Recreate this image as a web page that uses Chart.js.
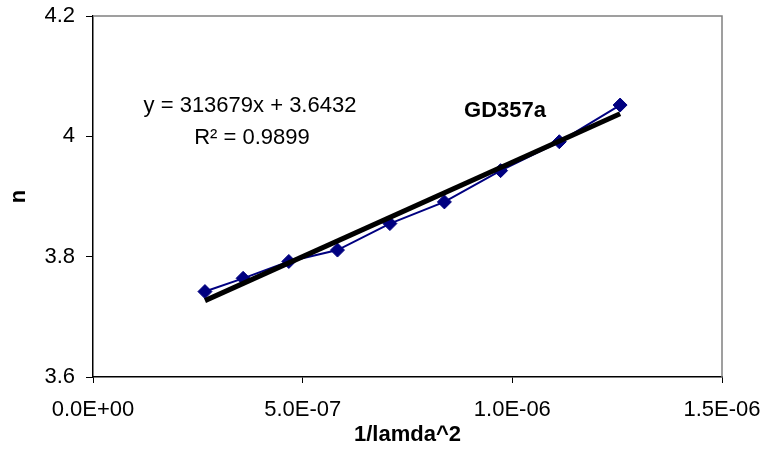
<!DOCTYPE html>
<html><head><meta charset="utf-8">
<script src="https://cdn.jsdelivr.net/npm/chart.js@4/dist/chart.umd.min.js"></script>
<style>html,body{margin:0;padding:0;background:#fff;overflow:hidden}#wrap{width:766px;height:449px;position:relative}</style>
</head><body><div id="wrap"><canvas id="c"></canvas></div>
<script>
const xValues = [2.67e-7, 3.58e-7, 4.67e-7, 5.83e-7, 7.08e-7, 8.38e-7, 9.72e-7, 1.112e-6, 1.257e-6];
const nValues = [3.742, 3.764, 3.792, 3.811, 3.855, 3.891, 3.943, 3.991, 4.052];
const trendSlope = 313679;
const trendIntercept = 3.6432;
const rSquared = 0.9899;
const seriesName = 'GD357a';
const xTickValues = [0, 5e-7, 1e-6, 1.5e-6];
const xTickLabels = ['0.0E+00', '5.0E-07', '1.0E-06', '1.5E-06'];
const yTickValues = [3.6, 3.8, 4.0, 4.2];
const yTickLabels = ['3.6', '3.8', '4', '4.2'];
const xTitle = '1/lamda^2';
const yTitle = 'n';

const FONT = '"Liberation Sans", Arial, sans-serif';
Chart.defaults.font.family = FONT;
Chart.defaults.font.size = 22;
Chart.defaults.color = '#000';

const seriesPts = xValues.map((x, i) => ({x: x, y: nValues[i]}));
const xFirst = Math.min(...xValues), xLast = Math.max(...xValues);
const trendPts = [xFirst, xLast].map(x => ({x: x, y: trendSlope * x + trendIntercept}));

const annot = {
  id: 'annot',
  beforeDatasetsDraw(chart) {
    const {ctx, chartArea: a} = chart;
    ctx.save();
    ctx.strokeStyle = '#808080';
    ctx.lineWidth = 1.5;
    ctx.beginPath();
    ctx.moveTo(a.left, a.top);
    ctx.lineTo(a.right, a.top);
    ctx.lineTo(a.right, a.bottom);
    ctx.stroke();
    ctx.restore();
  },
  afterDatasetsDraw(chart) {
    const {ctx, chartArea: a} = chart;
    ctx.save();
    ctx.fillStyle = '#000';
    ctx.textAlign = 'center';
    ctx.textBaseline = 'middle';
    ctx.font = '22px ' + FONT;
    ctx.fillText('y = ' + trendSlope + 'x + ' + trendIntercept, a.left + 157, a.top + 90);
    ctx.fillText('R\u00B2 = ' + rSquared, a.left + 159, a.top + 122);
    ctx.font = 'bold 22px ' + FONT;
    ctx.fillText(seriesName, a.left + 412, a.top + 95);
    ctx.restore();
  }
};

new Chart(document.getElementById('c'), {
  type: 'scatter',
  data: {
    datasets: [
      {
        label: 'Linear (' + seriesName + ')',
        data: trendPts,
        showLine: true,
        borderColor: '#000',
        borderWidth: 5,
        pointRadius: 0,
        fill: false,
        order: 0
      },
      {
        label: seriesName,
        data: seriesPts,
        showLine: true,
        borderColor: '#000080',
        backgroundColor: '#000080',
        borderWidth: 2,
        pointStyle: 'rectRot',
        pointRadius: 7,
        pointBorderWidth: 1,
        pointBorderColor: '#000080',
        pointBackgroundColor: '#000080',
        tension: 0,
        fill: false,
        order: 1
      }
    ]
  },
  options: {
    responsive: true,
    maintainAspectRatio: false,
    animation: false,
    layout: {padding: {left: 0, top: 16, right: 44, bottom: 0}},
    plugins: {legend: {display: false}, tooltip: {enabled: false}},
    scales: {
      x: {
        type: 'linear',
        min: xTickValues[0],
        max: xTickValues[xTickValues.length - 1],
        afterBuildTicks: s => { s.ticks = xTickValues.map(v => ({value: v})); },
        afterFit: s => { s.height = 72; s.paddingRight = 0; s.paddingLeft = 0; },
        ticks: {
          autoSkip: false, maxRotation: 0, padding: 14,
          font: {size: 22},
          callback: (v) => { const i = xTickValues.indexOf(v); return i >= 0 ? xTickLabels[i] : ''; }
        },
        grid: {display: true, drawOnChartArea: false, drawTicks: true, tickLength: 6, color: '#000', lineWidth: 1},
        border: {display: true, color: '#000', width: 1.5},
        title: {display: true, text: xTitle, font: {size: 22, weight: 'bold'}, padding: {top: 0, bottom: 1}}
      },
      y: {
        type: 'linear',
        min: yTickValues[0],
        max: yTickValues[yTickValues.length - 1],
        afterBuildTicks: s => { s.ticks = yTickValues.map(v => ({value: v})); },
        afterFit: s => { s.width = 93; s.paddingTop = 0; s.paddingBottom = 0; },
        ticks: {
          autoSkip: false, padding: 11,
          font: {size: 22},
          callback: (v) => { const i = yTickValues.indexOf(v); return i >= 0 ? yTickLabels[i] : ''; }
        },
        grid: {display: true, drawOnChartArea: false, drawTicks: true, tickLength: 7, color: '#000', lineWidth: 1},
        border: {display: true, color: '#000', width: 1.5},
        title: {display: true, text: yTitle, font: {size: 22, weight: 'bold'}, padding: {top: 6, bottom: 0}}
      }
    }
  },
  plugins: [annot]
});
</script>
</body></html>
